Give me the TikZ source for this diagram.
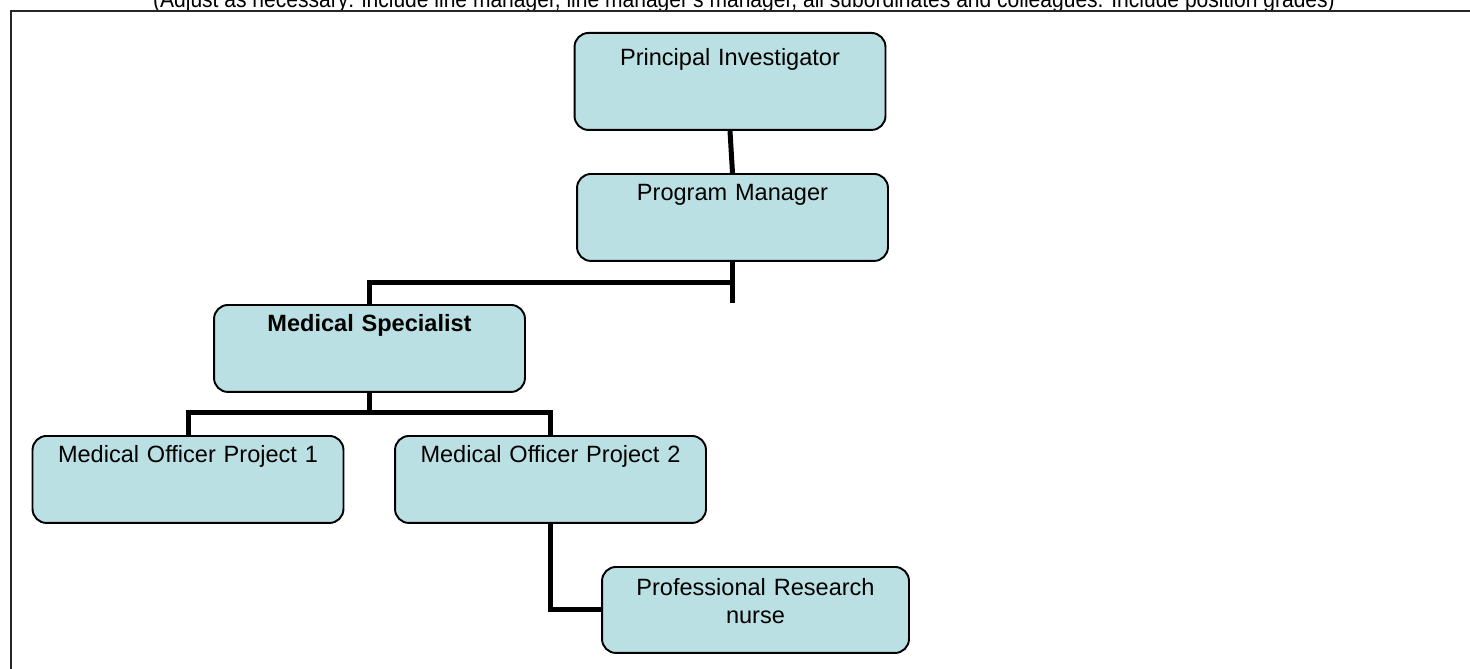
\documentclass[tikz,border=0pt]{standalone}
\usepackage{fontspec}
\setmainfont{Liberation Sans}
\usepackage{graphicx}
\usetikzlibrary{positioning}
\definecolor{boxblue}{RGB}{187,224,227}

\begin{document}
\begin{tikzpicture}[x=0.02cm, y=-0.02cm]
  \tikzstyle{post} = [draw=black, line width=1.1pt, fill=boxblue, rounded corners=0.28cm,
                      anchor=north, inner xsep=0pt, inner ysep=0pt, text width=6.22cm,
                      align=center, text height=0.54cm, text depth=1.2cm,
                      font=\fontsize{13.4}{15.4}\selectfont]
  \tikzstyle{link} = [line width=0.1cm, line join=miter]

  \useasboundingbox (0,0) rectangle (1470,669);
  \clip (0,0) rectangle (1470,669);

  % Heading and frame
  \node[anchor=base, inner sep=0pt, font=\fontsize{13.4}{16}\selectfont] (note) at (744,8)
    {\resizebox{23.64cm}{\height}{(Adjust as necessary: include line manager, line manager's manager, all subordinates and colleagues. Include position grades)}};
  \draw[line width=0.035cm, black!85] (1490,11) -| (11,690);

  % Nodes
  \node[post, text height=0.66cm, text depth=1.28cm] (pi) at (730,32) {Principal Investigator};
  \node[post] (pm) at (732.5,173) {Program Manager};
  \node[post, font=\fontsize{13.4}{15.4}\selectfont\bfseries] (ms) at (369.5,304) {Medical Specialist};
  \foreach \index / \x in {1/188, 2/550.5}
    \node[post] (mo\index) at (\x,435) {Medical Officer Project \index};
  \node[post, text width=6.14cm, text height=0.58cm, text depth=1.14cm] (prn) at (755.5,566)
    {Professional Research\\nurse};

  % Edges
  \coordinate (pmjoin) at (732.5,282);
  \coordinate (pmend) at (732.5,303);
  \coordinate (msjoin) at (369.5,412);
  \draw[link] (pi.south) -- (pm.north);
  \draw[link] (pm.south) -- (pmend);
  \draw[link] (ms.north) |- (pmjoin);
  \draw[link] (ms.south) -- (msjoin);
  \draw[link] (mo1.north) |- (msjoin) -| (mo2.north);
  \draw[link] (mo2.south) |- (prn.west);

\end{tikzpicture}
\end{document}
